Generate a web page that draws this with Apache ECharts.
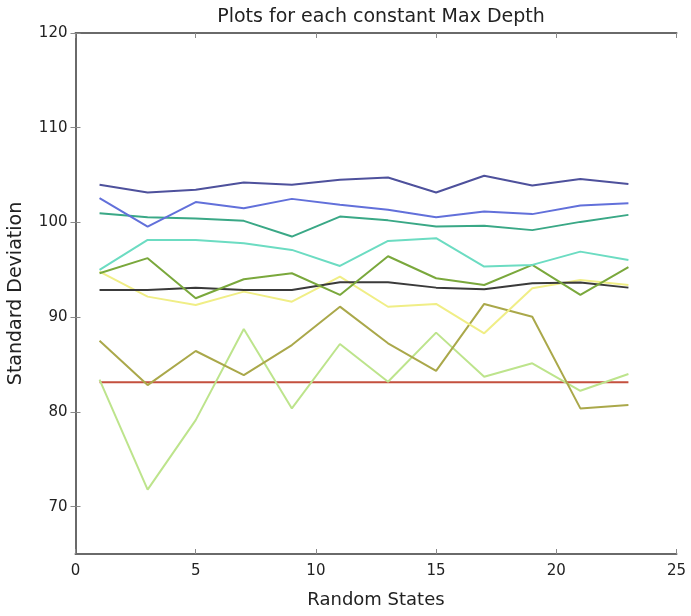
<!DOCTYPE html>
<html>
<head>
<meta charset="utf-8">
<script src="https://cdn.jsdelivr.net/npm/echarts@6/dist/echarts.min.js"></script>
<style>
html,body{margin:0;padding:0;background:#fff;}
#chart{width:691px;height:616px;}
</style>
</head>
<body>
<div id="chart"></div>
<script>
var randomStates = [1, 3, 5, 7, 9, 11, 13, 15, 17, 19, 21, 23];
var xTicks = [0, 5, 10, 15, 20, 25];
var yTicks = [70, 80, 90, 100, 110, 120];

var seriesNavy   = [103.97, 103.16, 103.45, 104.22, 103.97, 104.5, 104.74, 103.16, 104.93, 103.9, 104.58, 104.05];
var seriesBlue   = [102.57, 99.57, 102.15, 101.51, 102.49, 101.86, 101.33, 100.56, 101.15, 100.88, 101.79, 102.04];
var seriesTeal   = [100.98, 100.56, 100.41, 100.17, 98.51, 100.62, 100.22, 99.57, 99.64, 99.19, 100.06, 100.8];
var seriesAqua   = [94.99, 98.16, 98.16, 97.81, 97.1, 95.41, 98.05, 98.34, 95.34, 95.52, 96.92, 96.04];
var seriesGreen  = [94.64, 96.23, 92.0, 94.01, 94.64, 92.35, 96.43, 94.11, 93.4, 95.52, 92.35, 95.28];
var seriesBlack  = [92.88, 92.88, 93.12, 92.88, 92.88, 93.69, 93.69, 93.12, 92.95, 93.58, 93.65, 93.12];
var seriesYellow = [94.81, 92.17, 91.29, 92.7, 91.64, 94.28, 91.1, 91.4, 88.3, 93.06, 93.93, 93.4];
var seriesKhaki  = [87.52, 82.83, 86.43, 83.89, 87.06, 91.11, 87.24, 84.34, 91.4, 90.05, 80.37, 80.72];
var seriesLight  = [83.4, 71.8, 79.13, 88.75, 80.37, 87.17, 83.18, 88.37, 83.71, 85.13, 82.23, 84.0];
var seriesRed    = [83.12, 83.12, 83.12, 83.12, 83.12, 83.12, 83.12, 83.12, 83.12, 83.12, 83.12, 83.12];

var seriesList = [
  {data: seriesRed, color: '#c4503e'},
  {data: seriesLight, color: '#bde48c'},
  {data: seriesKhaki, color: '#aaa84a'},
  {data: seriesYellow, color: '#f0ee86'},
  {data: seriesBlack, color: '#3a3a3a'},
  {data: seriesGreen, color: '#7aa83c'},
  {data: seriesAqua, color: '#6cdcc2'},
  {data: seriesTeal, color: '#3aa886'},
  {data: seriesBlue, color: '#6270da'},
  {data: seriesNavy, color: '#4e519c'}
];

var FONT = 'DejaVu Sans';
var axisLine = {show: true, lineStyle: {color: '#6a6a6a', width: 2}};
var tickStyle = {color: '#8a8a8a', width: 1};
var chart = echarts.init(document.getElementById('chart'), null, {renderer: 'canvas'});
chart.setOption({
  animation: false,
  backgroundColor: '#fff',
  title: {
    text: 'Plots for each constant Max Depth',
    left: 376, top: 3, textAlign: 'center',
    textStyle: {fontFamily: FONT, fontSize: 19, fontWeight: 'normal', color: '#222'}
  },
  grid: {left: 75.5, right: 14.5, top: 33, bottom: 62, containLabel: false, outerBoundsMode: 'none'},
  xAxis: [{
    type: 'value', min: xTicks[0], max: xTicks[xTicks.length - 1], interval: 5,
    name: 'Random States', nameLocation: 'middle', nameGap: 37,
    nameTextStyle: {fontFamily: FONT, fontSize: 18, color: '#222'},
    axisLine: axisLine,
    axisTick: {show: true, inside: true, length: 5, lineStyle: tickStyle, customValues: xTicks},
    axisLabel: {fontFamily: FONT, fontSize: 15, color: '#222', margin: 10, customValues: xTicks},
    splitLine: {show: false}
  }, {
    type: 'value', position: 'top', min: xTicks[0], max: xTicks[xTicks.length - 1], interval: 5,
    axisLine: axisLine,
    axisTick: {show: true, inside: true, length: 5, lineStyle: tickStyle, customValues: xTicks},
    axisLabel: {show: false}, splitLine: {show: false}
  }],
  yAxis: [{
    type: 'value', min: 65, max: 120, interval: 5,
    axisLabel: {fontFamily: FONT, fontSize: 15, color: '#222', margin: 8, customValues: yTicks},
    name: 'Standard Deviation', nameLocation: 'middle', nameGap: 50,
    nameTextStyle: {fontFamily: FONT, fontSize: 19, color: '#222'},
    axisLine: axisLine,
    axisTick: {show: true, inside: true, length: 5, lineStyle: tickStyle, customValues: yTicks},
    splitLine: {show: false}
  }, {
    type: 'value', position: 'right', min: 65, max: 120, interval: 5,
    axisLine: axisLine,
    axisTick: {show: true, inside: true, length: 5, lineStyle: tickStyle, customValues: yTicks},
    axisLabel: {show: false}, splitLine: {show: false}
  }],
  series: seriesList.map(function (s) {
    return {
      type: 'line',
      xAxisIndex: 0, yAxisIndex: 0,
      data: randomStates.map(function (x, i) { return [x, s.data[i]]; }),
      showSymbol: false,
      symbol: 'none',
      lineStyle: {color: s.color, width: 2},
      itemStyle: {color: s.color}
    };
  })
});
</script>
</body>
</html>
